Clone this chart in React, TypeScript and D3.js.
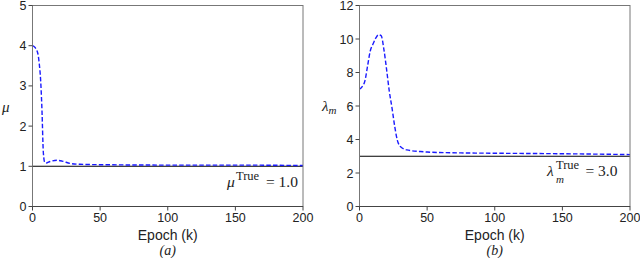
import React from 'react';
import * as d3 from 'd3';

// values
const xTicks = [0, 50, 100, 150, 200];

const muEpoch = [0, 2, 4, 5, 6, 7, 8, 9, 10, 13, 18, 22, 28, 35, 50, 100, 150, 200];
const muValue = [4.0, 3.95, 3.8, 3.55, 3.15, 2.4, 1.35, 1.1, 1.08, 1.12, 1.15, 1.13, 1.07, 1.05, 1.04, 1.03, 1.03, 1.02];
const muTicks = [0, 1, 2, 3, 4, 5];
const muTrue = 1.0;

const lamEpoch = [0, 2, 4, 6, 8, 10, 12, 14, 16, 18, 20, 22, 24, 26, 28, 30, 35, 45, 50, 75, 100, 150, 200];
const lamValue = [7.0, 7.15, 7.5, 8.4, 9.3, 9.7, 10.05, 10.25, 10.2, 9.4, 8.2, 6.9, 5.9, 4.8, 3.95, 3.6, 3.38, 3.28, 3.25, 3.2, 3.18, 3.15, 3.1];
const lamTicks = [0, 2, 4, 6, 8, 10, 12];
const lamTrue = 3.0;

const sans = 'Liberation Sans, Arial, sans-serif';
const serif = 'Liberation Serif, DejaVu Serif, serif';

function Panel(props: any) {
  const { left, right, epochs, values, yMax, yTicks, truth, yLabel, note, caption } = props;
  const top = 5.5;
  const bottom = 206.5;

  const x = d3.scaleLinear().domain([0, 200]).range([left, right]);
  const y = d3.scaleLinear().domain([0, yMax]).range([bottom, top]);

  const line = d3.line<number>()
    .x((d, i) => x(epochs[i]))
    .y(d => y(d))
    .curve(d3.curveMonotoneX);

  return (
    <g>
      {/* true value */}
      <line x1={x(0)} x2={x(200)} y1={y(truth)} y2={y(truth)} stroke="#000" strokeWidth={1.1} />
      {/* learned value */}
      <path d={line(values) || ''} fill="none" stroke="#1a1aff" strokeWidth={1.4} strokeDasharray="4.5,2.2" />

      <rect x={left} y={top} width={right - left} height={bottom - top} fill="none" stroke="#777" strokeWidth={1} />
      <line x1={left} x2={right} y1={bottom} y2={bottom} stroke="#444" strokeWidth={1} />

      {xTicks.map(t => (
        <g key={'x' + t}>
          <line x1={x(t)} x2={x(t)} y1={bottom} y2={bottom + 4} stroke="#444" />
          <text x={x(t)} y={221.5} textAnchor="middle" fontFamily={sans} fontSize={12.5} fill="#222">{t}</text>
        </g>
      ))}
      {yTicks.map((t: number) => (
        <g key={'y' + t}>
          <line x1={left - 4} x2={left} y1={y(t)} y2={y(t)} stroke="#444" />
          <text x={left - 6} y={y(t) + 4.5} textAnchor="end" fontFamily={sans} fontSize={12.5} fill="#222">{t}</text>
        </g>
      ))}

      <text x={(left + right) / 2} y={240} textAnchor="middle" fontFamily={sans} fontSize={14} fill="#222">Epoch (k)</text>
      <text x={(left + right) / 2} y={254.5} textAnchor="middle" fontFamily={serif} fontStyle="italic" fontSize={14} fill="#222">{caption}</text>
      {yLabel}
      {note}
    </g>
  );
}

export default function App() {
  return (
    <svg width={640} height={258} style={{ position: 'absolute', left: 0, top: 0 }}>
      <rect width={640} height={258} fill="#fff" />
      <Panel
        left={32.5}
        right={303}
        epochs={muEpoch}
        values={muValue}
        yMax={5}
        yTicks={muTicks}
        truth={muTrue}
        caption="(a)"
        yLabel={<text x={2} y={112} fontFamily={serif} fontStyle="italic" fontSize={15} fill="#222">μ</text>}
        note={
          <g fontFamily={serif} fill="#222">
            <text x={227} y={187} fontSize={15.5} fontStyle="italic">μ</text>
            <text x={236} y={180} fontSize={12.5}>True</text>
            <text x={298} y={187} textAnchor="end" fontSize={15.5}>= 1.0</text>
          </g>
        }
      />
      <Panel
        left={359.5}
        right={630}
        epochs={lamEpoch}
        values={lamValue}
        yMax={12}
        yTicks={lamTicks}
        truth={lamTrue}
        caption="(b)"
        yLabel={
          <text x={322} y={111} fontFamily={serif} fontStyle="italic" fontSize={15} fill="#222">
            λ<tspan fontSize={11} dy={3}>m</tspan>
          </text>
        }
        note={
          <g fontFamily={serif} fill="#222">
            <text x={547} y={176} fontSize={15.5} fontStyle="italic">λ</text>
            <text x={556} y={169} fontSize={12.5}>True</text>
            <text x={556} y={183} fontSize={11} fontStyle="italic">m</text>
            <text x={617.5} y={176} textAnchor="end" fontSize={15.5}>= 3.0</text>
          </g>
        }
      />
    </svg>
  );
}
